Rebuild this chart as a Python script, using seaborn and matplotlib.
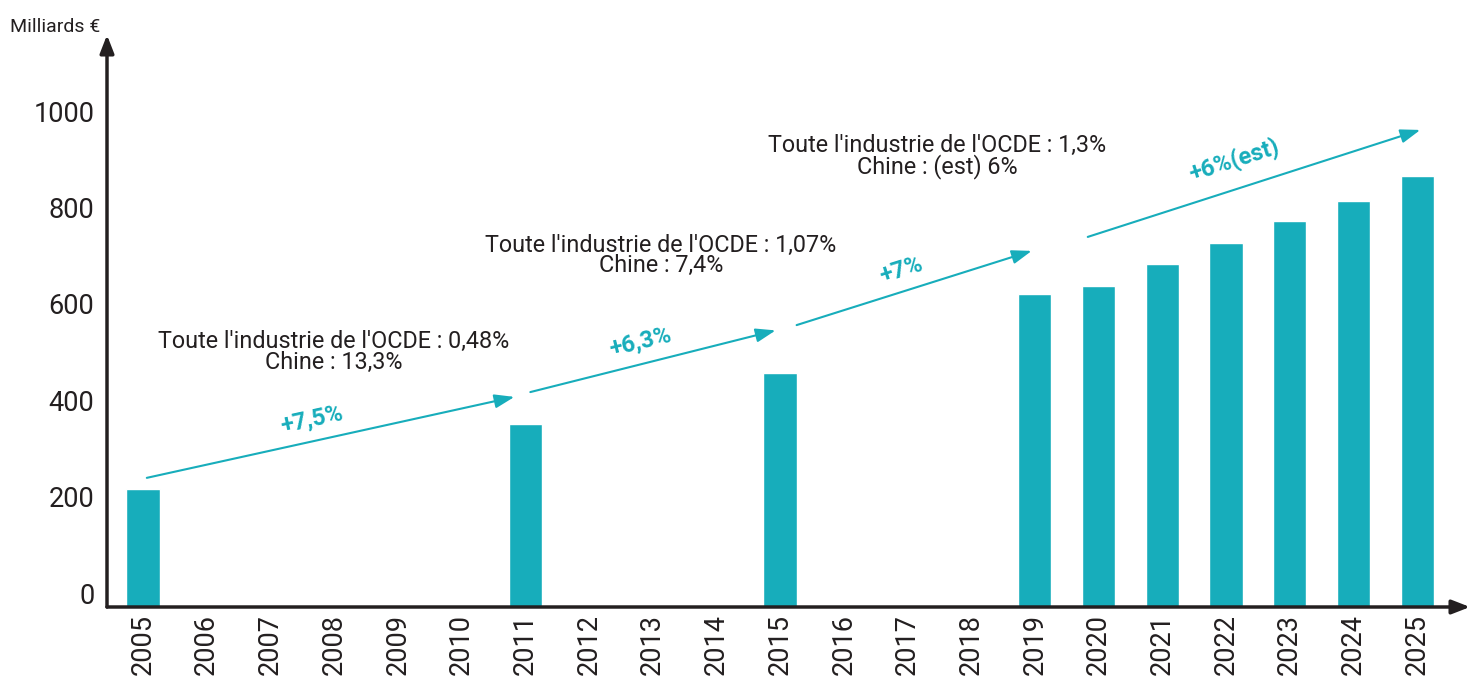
import matplotlib
matplotlib.use("Agg")
import matplotlib.pyplot as plt
import matplotlib.transforms as mtransforms
import seaborn as sns
import pandas as pd

years_all = [str(y) for y in range(2005, 2026)]
years = ["2005", "2011", "2015", "2019", "2020", "2021", "2022", "2023", "2024", "2025"]
values = [245, 380, 485, 649, 666, 712, 755, 801, 842, 894]
yticks = [0, 200, 400, 600, 800, 1000]

growth_labels = ["+7,5%", "+6,3%", "+7%", "+6%(est)"]
note_lines = [
    "Toute l'industrie de l'OCDE : 0,48%\nChine : 13,3%",
    "Toute l'industrie de l'OCDE : 1,07%\nChine : 7,4%",
    "Toute l'industrie de l'OCDE : 1,3%\nChine : (est) 6%",
]

TEAL = "#17adbb"
DARK = "#231f20"

sns.set_theme(style="white")
plt.rcParams["font.family"] = ["Roboto", "DejaVu Sans"]

df = pd.DataFrame({"year": years, "value": values})

fig = plt.figure(figsize=(14.7, 6.82), dpi=100)
ax = fig.add_axes([107 / 1470, 75 / 682, (1470 - 107) / 1470, (607 - 35) / 682])

sns.barplot(data=df, x="year", y="value", order=years_all, color=TEAL,
            saturation=1, width=0.52, ax=ax)

ax.set_xlim(-0.565, 20.83)
ax.set_ylim(0, 1187)
ax.set_xlabel("")
ax.set_ylabel("")
ax.set_yticks(yticks)
ax.set_yticklabels([str(v) for v in yticks])
ax.tick_params(axis="both", length=0, labelsize=19.5, colors=DARK)
ax.tick_params(axis="y", pad=9)
ax.tick_params(axis="x", pad=5)
for lab in ax.get_xticklabels():
    lab.set_rotation(90)
    lab.set_va("top")
    lab.set_ha("center")
offset = mtransforms.ScaledTranslation(0, 14 / 100, fig.dpi_scale_trans)
for lab in ax.get_yticklabels():
    lab.set_transform(lab.get_transform() + offset)

for s in ax.spines.values():
    s.set_visible(False)

# axis arrows
ax.annotate("", xy=(1.0, 0), xytext=(0, 0), xycoords="axes fraction",
            textcoords="axes fraction",
            arrowprops=dict(arrowstyle="-|>,head_length=0.9,head_width=0.35",
                            lw=2.5, color=DARK, shrinkA=0, shrinkB=0),
            annotation_clip=False)
ax.annotate("", xy=(0, 1.0), xytext=(0, 0), xycoords="axes fraction",
            textcoords="axes fraction",
            arrowprops=dict(arrowstyle="-|>,head_length=0.9,head_width=0.35",
                            lw=2.5, color=DARK, shrinkA=0, shrinkB=0),
            annotation_clip=False)

fig.text(10 / 1470, 1 - 27 / 682, "Milliards €", fontsize=14, color=DARK,
         va="center", ha="left")

# growth arrows (data coordinates: category index, value)
arrows = [((0.06, 268), (5.83, 436)),
          ((6.08, 446), (9.93, 574)),
          ((10.26, 585), (13.95, 739)),
          ((14.83, 768), (20.05, 990))]
label_pos = [(2.66, 388, 12.4), (7.81, 550, 13.7), (11.9, 699, 17.4), (17.13, 927, 17.7)]
for (start, end), lab, (lx, ly, rot) in zip(arrows, growth_labels, label_pos):
    ax.annotate("", xy=end, xytext=start,
                arrowprops=dict(arrowstyle="-|>,head_length=1.0,head_width=0.35",
                                lw=1.5, color=TEAL, shrinkA=0, shrinkB=0),
                annotation_clip=False)
    ax.text(lx, ly, lab, color=TEAL, fontsize=17, fontweight="bold",
            rotation=rot, rotation_mode="anchor", ha="center", va="center")

note_pos = [(3.0, 529), (8.13, 730), (12.47, 934)]
for txt, (nx, ny) in zip(note_lines, note_pos):
    ax.text(nx, ny, txt, fontsize=16.8, color=DARK, ha="center", va="center",
            linespacing=0.85)

fig.savefig("out.png", dpi=100)
